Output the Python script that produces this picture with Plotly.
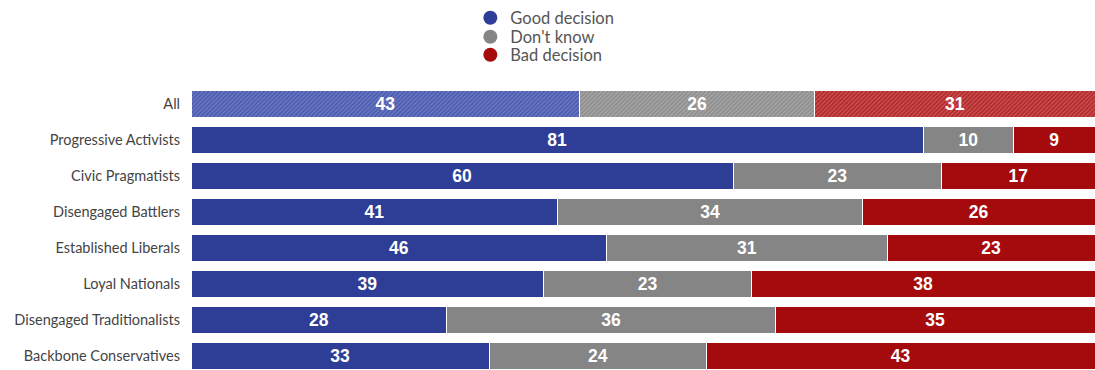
import plotly.graph_objects as go

groups = ["All", "Progressive Activists", "Civic Pragmatists", "Disengaged Battlers",
          "Established Liberals", "Loyal Nationals", "Disengaged Traditionalists",
          "Backbone Conservatives"]
good = [43, 81, 60, 41, 46, 39, 28, 33]
dont_know = [26, 10, 23, 34, 31, 23, 36, 24]
bad = [31, 9, 17, 26, 23, 38, 35, 43]

series = [
    ("Good decision", good, "#2e3e96", "#4c5cb0", "#a9b3e2"),
    ("Don't know", dont_know, "#858585", "#8f8f8f", "#cfcfcf"),
    ("Bad decision", bad, "#a50a0c", "#b52a2c", "#e8a0a0"),
]

# rounded figures don't always add to 100, so bars are scaled to fill the row
totals = [g + d + b for g, d, b in zip(good, dont_know, bad)]

label_font = dict(size=17.5, family="Liberation Sans", color="white", weight="bold")

fig = go.Figure()
for i, (name, vals, color, mid, light) in enumerate(series):
    share = [v / t * 100 for v, t in zip(vals, totals)]
    # the "All" row is hatched, the segment rows are solid
    fig.add_trace(go.Bar(
        y=groups[:1], x=share[:1], orientation="h", name=name, showlegend=False,
        marker=dict(color=mid, line=dict(color="white", width=1),
                    pattern=dict(shape="/", fgcolor=light, bgcolor=mid,
                                 size=3, solidity=0.3)),
        text=vals[:1], textposition="inside", insidetextanchor="middle",
        textfont=label_font, hoverinfo="skip",
    ))
    fig.add_trace(go.Bar(
        y=groups[1:], x=share[1:], orientation="h", name=name, showlegend=False,
        marker=dict(color=color, line=dict(color="white", width=1)),
        text=vals[1:], textposition="inside", insidetextanchor="middle",
        textfont=label_font, hoverinfo="skip",
    ))
    # round legend markers, one small legend each so the rows sit tight
    fig.add_trace(go.Scatter(
        x=[None], y=[None], mode="markers", name=name,
        legend="legend" if i == 0 else f"legend{i + 1}",
        marker=dict(color=color, size=14, symbol="circle"),
    ))

leg = dict(x=0.309, xanchor="left", yanchor="middle", orientation="v",
           font=dict(size=16.5, color="#555555"), itemwidth=30,
           bgcolor="rgba(0,0,0,0)")

fig.update_layout(
    barmode="stack",
    bargap=0.24,
    width=1095, height=370,
    margin=dict(l=191, r=0, t=86, b=0),
    plot_bgcolor="white",
    paper_bgcolor="white",
    font=dict(family="Lato", size=14.5, color="#444444"),
    showlegend=True,
    legend=dict(leg, y=1 + (86 - 18) / 284),
    legend2=dict(leg, y=1 + (86 - 37) / 284),
    legend3=dict(leg, y=1 + (86 - 55) / 284),
    xaxis=dict(range=[0, 100], visible=False, fixedrange=True),
    yaxis=dict(categoryorder="array", categoryarray=groups, range=[7.39, -0.5],
               showgrid=False, zeroline=False, showline=False, ticks="",
               ticklabelstandoff=10, tickfont=dict(size=14.5, color="#444444")),
)

fig.write_html("out.html", config=dict(displayModeBar=False),
               post_script="document.body.style.margin='0';document.body.style.overflow='hidden';")
